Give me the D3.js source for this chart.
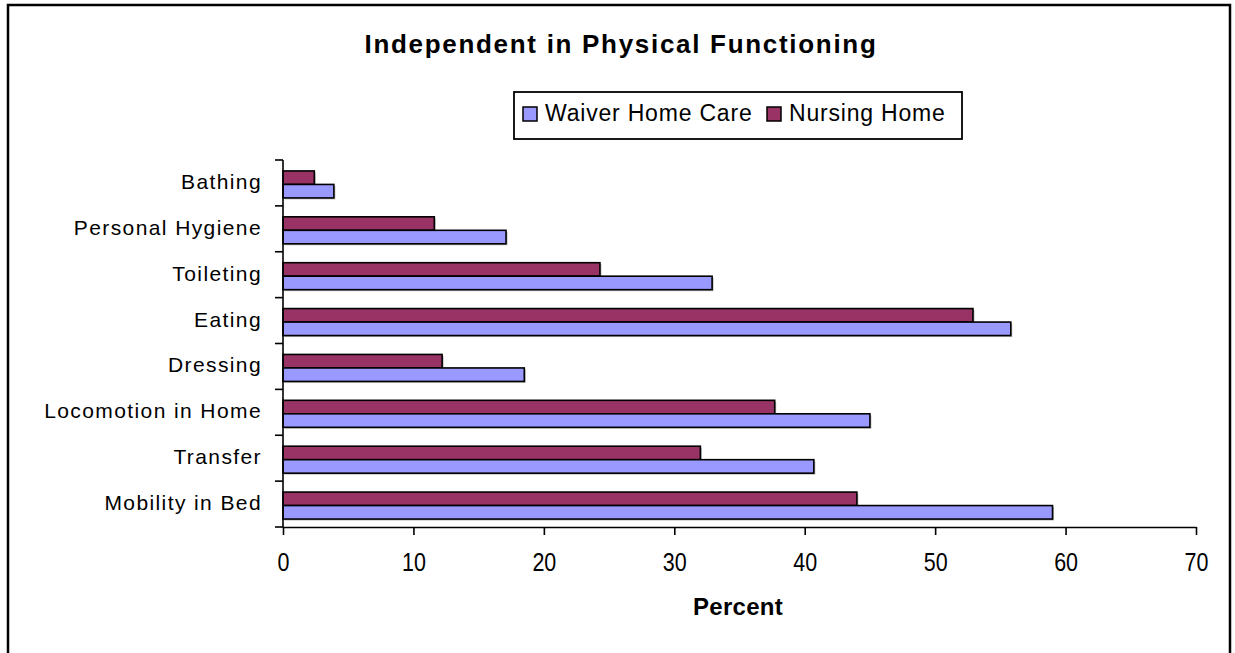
<!DOCTYPE html>
<html>
<head>
<meta charset="utf-8">
<script src="https://cdn.jsdelivr.net/npm/d3@7"></script>
<style>
  html, body { margin: 0; padding: 0; background: #fff; }
  svg { display: block; }
  text { font-family: "Liberation Sans", Arial, sans-serif; fill: #000; }
</style>
</head>
<body>
<svg id="chart" width="1235" height="653"></svg>
<script>
// ---- data ----
const categories = ["Bathing", "Personal Hygiene", "Toileting", "Eating", "Dressing",
                    "Locomotion in Home", "Transfer", "Mobility in Bed"];
const seriesNames = ["Nursing Home", "Waiver Home Care"];
const waiverHomeCare = [3.9, 17.1, 32.9, 55.8, 18.5, 45.0, 40.7, 59.0];
const nursingHome    = [2.4, 11.6, 24.3, 52.9, 12.2, 37.7, 32.0, 44.0];
const xTicks = [0, 10, 20, 30, 40, 50, 60, 70];
const legendOrder = ["Waiver Home Care", "Nursing Home"];
const colors = { "Waiver Home Care": "#9999FF", "Nursing Home": "#993366" };

const rows = categories.map((c, i) => ({
  category: c,
  "Waiver Home Care": waiverHomeCare[i],
  "Nursing Home": nursingHome[i]
}));

// ---- layout ----
const svg = d3.select("#chart");
const plot = { left: 283, right: 1196, top: 160, bottom: 527 };

// frame
svg.append("rect")
  .attr("x", 8).attr("y", 5).attr("width", 1222).attr("height", 670)
  .attr("fill", "#fff").attr("stroke", "#000").attr("stroke-width", 2.5);

const x = d3.scaleLinear().domain([0, 70]).range([plot.left, plot.right]);
const y = d3.scaleBand().domain(categories).range([plot.top, plot.bottom]).padding(0);
const ySub = d3.scaleBand().domain(seriesNames).range([0, y.bandwidth()]).paddingInner(0).paddingOuter(0.7);

// title
svg.append("text")
  .attr("x", 621).attr("y", 53)
  .attr("text-anchor", "middle")
  .style("font-size", "26px").style("font-weight", "bold").style("letter-spacing", "1.7px")
  .text("Independent in Physical Functioning");

// bars
const g = svg.append("g");
const groups = g.selectAll("g.cat").data(rows).enter().append("g")
  .attr("class", "cat")
  .attr("transform", d => `translate(0,${y(d.category) + 1.5})`);

// shadows
groups.selectAll("rect.sh").data(d => seriesNames.map(s => ({ s, v: d[s] }))).enter()
  .append("rect").attr("class", "sh")
  .attr("x", x(0) + 1.5)
  .attr("y", d => ySub(d.s) + 1.5)
  .attr("width", d => x(d.v) - x(0))
  .attr("height", ySub.bandwidth())
  .attr("fill", "#bbb");

groups.selectAll("rect.bar").data(d => seriesNames.map(s => ({ s, v: d[s] }))).enter()
  .append("rect").attr("class", "bar")
  .attr("x", x(0))
  .attr("y", d => ySub(d.s))
  .attr("width", d => x(d.v) - x(0))
  .attr("height", ySub.bandwidth())
  .attr("fill", d => colors[d.s])
  .attr("stroke", "#000").attr("stroke-width", 1.6);

// x axis
const xAxis = svg.append("g")
  .attr("transform", `translate(0,${plot.bottom})`)
  .call(d3.axisBottom(x).tickValues(xTicks).tickSize(8).tickSizeOuter(0).tickPadding(18));
xAxis.select(".domain").attr("stroke", "#000").attr("stroke-width", 1.6);
xAxis.selectAll(".tick line").attr("stroke", "#000").attr("stroke-width", 1.6);
xAxis.selectAll(".tick text")
  .attr("transform", "scale(0.86,1)")
  .style("font-size", "25px")
  .style("font-family", "'Liberation Sans', Arial, sans-serif")
  .attr("fill", "#000");

// y axis (ticks at category boundaries)
const yAxis = svg.append("g");
yAxis.append("line")
  .attr("x1", plot.left).attr("x2", plot.left)
  .attr("y1", plot.top).attr("y2", plot.bottom)
  .attr("stroke", "#000").attr("stroke-width", 1.6);
const boundaries = categories.map(c => y(c)).concat([y.range()[1]]);
yAxis.selectAll("line.tk").data(boundaries).enter().append("line")
  .attr("class", "tk")
  .attr("x1", plot.left - 8).attr("x2", plot.left)
  .attr("y1", d => d).attr("y2", d => d)
  .attr("stroke", "#000").attr("stroke-width", 1.6);
yAxis.selectAll("text.lbl").data(categories).enter().append("text")
  .attr("class", "lbl")
  .attr("x", 262)
  .attr("y", d => y(d) + y.bandwidth() / 2 + 6)
  .attr("text-anchor", "end")
  .style("font-size", "21px").style("letter-spacing", "1.4px")
  .text(d => d);

// x axis title
svg.append("text")
  .attr("x", 738).attr("y", 615)
  .attr("text-anchor", "middle")
  .style("font-size", "24px").style("font-weight", "bold").style("letter-spacing", "0.3px")
  .text("Percent");

// legend
const legend = svg.append("g");
legend.append("rect")
  .attr("x", 514).attr("y", 92).attr("width", 448).attr("height", 47)
  .attr("fill", "#fff").attr("stroke", "#000").attr("stroke-width", 1.8);
const legendX = [523, 767];
legendOrder.forEach((s, i) => {
  legend.append("rect")
    .attr("x", legendX[i]).attr("y", 107).attr("width", 14).attr("height", 14)
    .attr("fill", colors[s]).attr("stroke", "#000").attr("stroke-width", 1.5);
  legend.append("text")
    .attr("x", legendX[i] + 22).attr("y", 121)
    .style("font-size", "23px").style("letter-spacing", "0.8px")
    .text(s);
});
</script>
</body>
</html>
